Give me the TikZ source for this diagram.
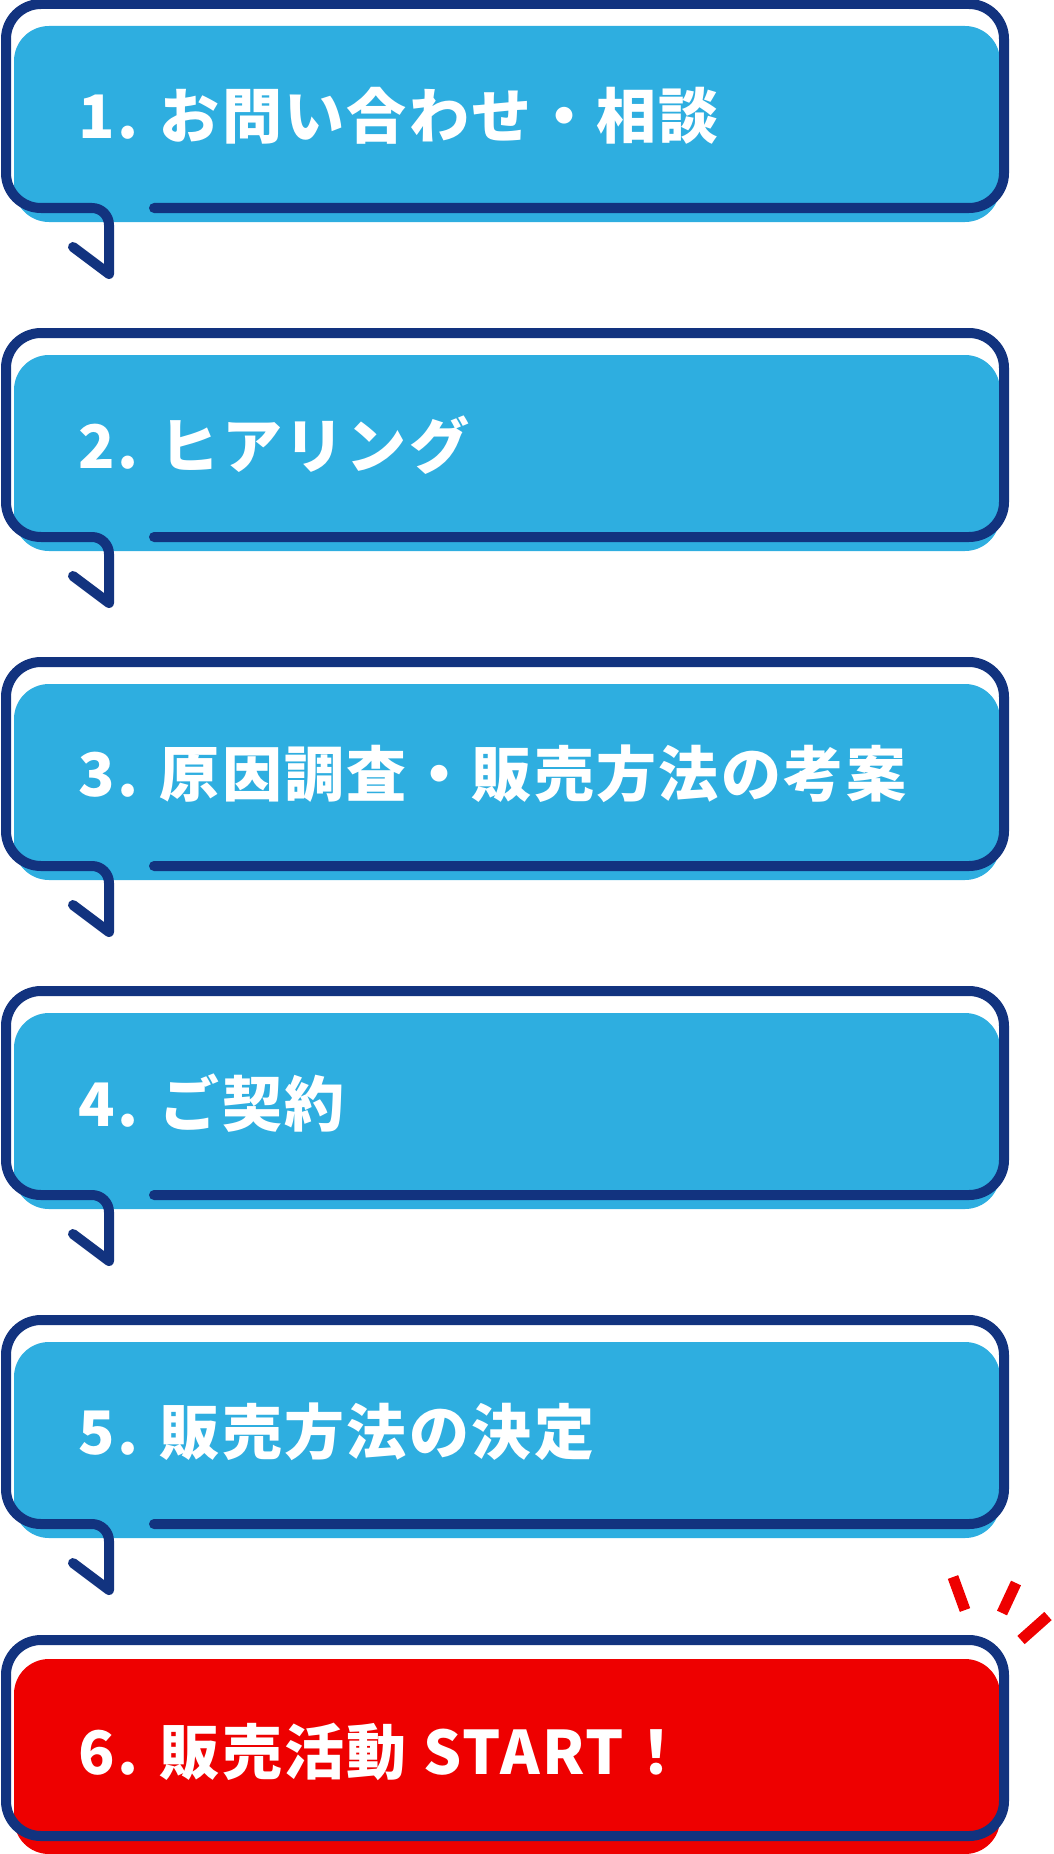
\documentclass[tikz,border=0pt]{standalone}
\usepackage{fontspec}
\setmainfont{Noto Sans CJK JP}[LetterSpace=4]
\definecolor{navy}{HTML}{12337F}
\definecolor{sky}{HTML}{2EAEE0}
\definecolor{alert}{HTML}{EE0000}
\begin{document}
\begin{tikzpicture}[x=1pt,y=-1pt]
        % Define styles
        \tikzset{
            outline/.style={draw=navy, line width=10pt, line cap=round, line join=round},
            label/.style={anchor=west, text=white, inner sep=0pt, font=\fontsize{60}{72}\selectfont\bfseries},
            ray/.style={draw=alert, line width=11pt}
        }
        \useasboundingbox (0,0) rectangle (1054,1854);

        % Boxes 1-5 with tails
        \foreach \k/\txt in {0/{1. お問い合わせ・相談}, 1/{2. ヒアリング}, 2/{3. 原因調査・販売方法の考案}, 3/{4. ご契約}, 4/{5. 販売方法の決定}}{
            \pgfmathsetmacro{\t}{4+329*\k}
            \fill[sky, rounded corners=35pt] (14,\t+22) rectangle (1000,\t+218);
            \draw[outline] (154,\t+204) -- (969,\t+204) arc[start angle=90, end angle=0, radius=35]
                -- (1004,\t+35) arc[start angle=0, end angle=-90, radius=35]
                -- (41,\t) arc[start angle=-90, end angle=-180, radius=35]
                -- (6,\t+169) arc[start angle=180, end angle=90, radius=35]
                -- (92,\t+204) arc[start angle=-90, end angle=0, radius=17]
                -- (109,\t+270) -- (73,\t+243);
            \node[label] (step\k) at (78,\t+112) {\txt};
        }

        % Box 6
        \fill[alert, rounded corners=35pt] (14,1659) rectangle (1000,1854);
        \draw[outline, rounded corners=35pt] (6,1640) rectangle (1004,1836);
        \node[label] (step5) at (78,1752) {6. 販売活動 START！};

        % Rays
        \draw[ray] (953,1577) -- (965,1610);
        \draw[ray] (1016,1583) -- (1002,1613);
        \draw[ray] (1048,1616) -- (1021,1640);
\end{tikzpicture}
\end{document}
